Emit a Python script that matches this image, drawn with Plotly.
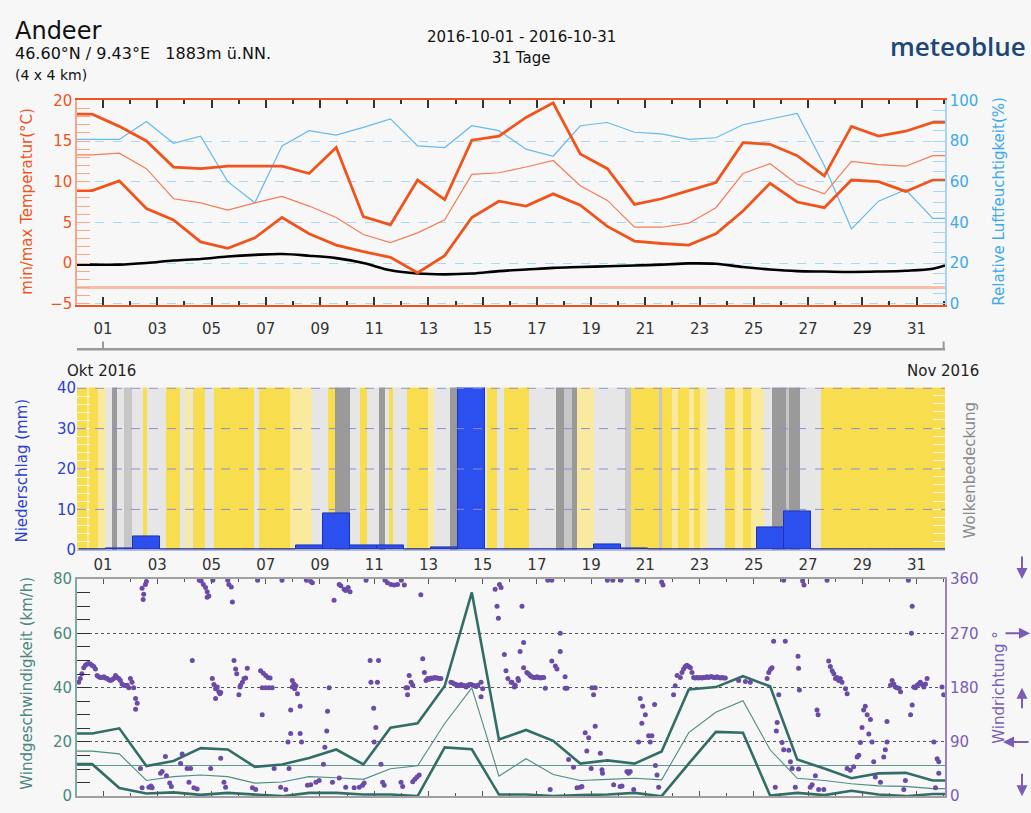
import plotly.graph_objects as go

W, H = 1031, 813

# ---------------- data ----------------
XMIN, XMAX = 0.04, 32.05          # axis span in "day of October" units (tick 01 = Oct 1)
POINT_OFFSET = 0.6                 # daily values are plotted at day + 0.6
day_index = list(range(32))        # Sep 30 .. Oct 31
day_ticks = list(range(1, 32, 2))
day_ticktext = ["%02d" % d for d in day_ticks]
day_minor = list(range(2, 33, 2))

tmax = [18.3, 16.8, 15.0, 11.8, 11.6, 11.9, 11.9, 11.9, 11.0, 14.2, 5.7, 4.7, 10.2, 7.8, 15.1, 15.6,
        17.9, 19.7, 13.4, 11.6, 7.2, 7.9, 8.9, 9.9, 14.8, 14.6, 13.2, 10.7, 16.8, 15.6, 16.2, 17.3]
tmean = [13.3, 13.5, 11.6, 7.9, 7.4, 6.5, 7.4, 8.2, 7.0, 5.6, 3.5, 2.5, 3.7, 5.3, 10.9, 11.1,
         11.8, 12.6, 9.5, 7.7, 4.4, 4.4, 4.9, 6.8, 11.0, 12.2, 9.7, 8.5, 12.5, 12.1, 11.9, 13.2]
tmin = [8.9, 10.1, 6.7, 5.3, 2.6, 1.8, 3.1, 5.6, 3.6, 2.2, 1.4, 0.7, -1.2, 0.9, 5.6, 7.6,
        7.0, 8.5, 7.1, 4.5, 2.7, 2.4, 2.2, 3.6, 6.4, 9.8, 7.5, 6.8, 10.2, 10.0, 8.8, 10.2]
humidity = [80.8, 80.8, 89.6, 78.9, 82.4, 60.0, 49.6, 77.6, 85.1, 82.9, 86.7, 90.9, 77.6, 76.8, 87.5, 85.1,
            76.0, 72.5, 87.5, 89.1, 84.3, 83.5, 80.8, 81.6, 88.0, 90.9, 93.6, 68.0, 36.8, 50.4, 56.0, 41.9]
ref_curve = [-0.2, -0.2, 0.0, 0.3, 0.5, 0.8, 1.0, 1.1, 0.9, 0.6, 0.0, -0.9, -1.3, -1.4, -1.3, -1.0,
             -0.8, -0.6, -0.5, -0.4, -0.3, -0.2, -0.05, -0.1, -0.5, -0.8, -1.0, -1.05, -1.1, -1.05, -0.95, -0.7]
ref_curve_edges = (-0.2, -0.3)
temp_ref = -3.0

precip = [0, 0.3, 3.2, 0, 0, 0, 0, 0, 1.0, 9.0, 1.0, 1.0, 0, 0.6, 41.0, 0,
          0, 0, 0, 1.4, 0.4, 0, 0, 0, 0, 5.5, 9.4, 0.15, 0, 0, 0, 0]

cloud_start = [0.04, 0.42, 0.50, 0.83, 1.11, 1.32, 1.53, 1.77, 2.06, 2.49, 2.61, 3.32, 3.84, 4.03, 4.19, 4.31,
               4.76, 5.10, 6.57, 6.77, 7.90, 8.70, 9.31, 9.56, 10.11, 10.48, 10.73, 11.16, 11.41, 11.53, 11.69,
               12.21, 13.00, 13.19, 13.80, 14.05, 14.17, 15.16, 15.53, 15.77, 16.70, 17.72, 17.99, 18.30, 18.48,
               19.10, 20.26, 20.47, 21.49, 21.62, 22.00, 22.20, 22.60, 22.80, 23.00, 23.28, 23.95, 24.30, 24.60,
               24.90, 25.37, 25.67, 26.17, 26.29, 26.72, 27.46]
cloud_level = [0, 1, 0, 1, 2, 4, 2, 3, 2, 0, 2, 0, 2, 1, 2, 0,
               2, 0, 2, 0, 1, 2, 0, 4, 2, 0, 2, 4, 2, 0, 2,
               0, 1, 2, 4, 3, 2, 0, 2, 0, 2, 4, 3, 4, 1,
               2, 3, 0, 3, 0, 1, 0, 1, 0, 1, 2, 0, 1, 0,
               1, 2, 4, 3, 4, 2, 0]

wmax = [23.1, 25.0, 11.1, 13.0, 17.7, 17.2, 10.8, 11.7, 14.1, 17.2, 11.7, 25.2, 26.9, 40.6, 75.1, 20.9,
        24.4, 20.4, 12.0, 13.2, 12.0, 16.5, 39.3, 40.2, 44.2, 40.5, 13.5, 10.2, 6.6, 8.4, 8.6, 5.8]
wmean = [16.6, 15.6, 5.8, 7.2, 7.8, 7.2, 4.8, 5.2, 7.2, 6.8, 6.2, 10.1, 11.2, 26.8, 39.9, 7.4,
         13.8, 8.0, 5.8, 6.2, 6.6, 6.0, 23.4, 30.9, 35.2, 17.1, 6.6, 5.8, 4.6, 3.8, 3.6, 2.8]
wmin = [11.8, 3.0, 1.0, 1.4, 0.5, 1.2, 0.6, 0.0, 1.2, 1.2, 0.6, 0.6, 0.0, 18.0, 17.3, 0.6,
        0.6, 0.0, 0.4, 0.6, 1.2, 0.0, 12.0, 23.7, 23.4, 0.2, 1.2, 0.4, 2.0, 0.6, 0.0, 0.8]
wind_ref = 11.3

# hourly wind-direction observations (day, degrees)
wdir_obs = [
    (0.10, 189), (0.16, 195), (0.22, 203), (0.29, 213), (0.35, 217), (0.41, 219), (0.47, 220), (0.53, 219),
    (0.59, 217), (0.66, 215), (0.72, 211), (0.78, 200), (0.84, 198), (0.90, 197), (0.96, 197), (1.03, 198),
    (1.09, 196), (1.15, 195), (1.21, 193), (1.27, 192), (1.33, 193), (1.39, 195), (1.46, 200), (1.52, 197),
    (1.58, 195), (1.64, 192), (1.70, 186), (1.76, 184), (1.83, 183), (1.89, 184), (1.95, 180), (2.01, 195),
    (2.07, 189), (2.13, 180), (2.20, 162), (2.26, 154), (2.20, 144),
    (2.44, 345), (2.50, 335), (2.48, 326), (2.56, 351), (2.60, 356),
    (2.38, 46), (2.44, 14), (2.69, 15), (2.77, 17), (2.81, 14), (3.18, 41), (3.12, 38), (3.30, 66), (3.34, 34),
    (3.46, 22), (3.52, 16), (3.86, 54), (3.92, 70), (4.10, 46), (4.23, 46), (4.17, 23), (4.35, 14), (4.47, 12),
    (4.97, 46), (5.34, 63), (5.46, 23), (5.52, 15), (4.29, 225),
    (4.62, 357), (4.70, 351), (4.78, 346), (4.84, 339), (4.90, 332), (4.84, 330), (5.64, 351), (5.73, 347),
    (5.77, 322), (4.55, 358), (5.05, 358), (5.60, 358), (6.70, 358), (7.60, 358), (8.50, 358),
    (5.03, 195), (5.09, 185), (5.15, 178), (5.21, 181), (5.27, 173), (5.34, 172), (5.15, 162), (5.31, 170),
    (5.83, 225), (5.89, 211), (5.93, 203), (6.01, 168), (6.07, 184), (6.14, 189), (6.20, 195), (6.26, 196),
    (6.32, 212), (6.05, 181),
    (6.81, 208), (6.91, 204), (7.00, 200), (7.08, 197), (6.87, 180), (7.00, 180), (7.12, 180), (7.24, 180),
    (6.87, 135), (7.16, 196),
    (6.51, 14), (6.63, 11), (7.31, 46), (7.55, 15), (7.74, 11), (7.86, 46),
    (7.98, 192), (8.04, 186), (8.11, 183), (8.17, 170), (7.98, 181), (8.07, 178),
    (7.92, 143), (8.27, 149), (7.92, 104), (8.27, 104), (7.82, 90), (8.32, 90),
    (8.54, 18), (8.66, 19), (8.85, 23), (8.97, 26),
    (8.66, 356), (8.72, 354), (9.52, 325), (9.71, 351), (9.77, 349), (9.89, 343), (9.95, 341), (10.11, 339),
    (10.04, 346), (10.70, 358), (11.40, 358), (12.00, 358),
    (9.34, 180), (9.28, 141), (9.25, 108), (9.18, 81), (9.13, 53),
    (9.46, 23), (9.71, 30), (9.95, 15), (10.26, 14), (10.45, 15), (10.57, 18), (10.63, 22),
    (10.85, 225), (11.16, 225), (10.88, 189), (11.12, 189), (10.98, 146), (11.06, 114), (11.00, 90),
    (11.25, 53), (11.31, 23), (11.37, 18), (11.99, 23), (12.05, 16),
    (11.49, 354), (11.62, 351), (11.74, 350), (11.86, 351), (12.11, 350), (12.72, 334),
    (12.17, 180), (12.23, 180), (12.29, 200), (12.36, 189), (12.42, 184), (12.23, 168),
    (12.42, 24), (12.50, 28), (12.58, 32), (12.66, 35),
    (12.79, 228), (12.85, 205), (12.91, 192), (12.97, 195), (13.03, 194), (13.09, 196), (13.15, 195),
    (13.22, 197), (13.28, 196), (13.34, 196), (13.40, 195), (13.46, 195),
    (13.83, 189), (13.89, 188), (13.96, 186), (14.02, 185), (14.08, 184), (14.14, 183), (14.20, 185),
    (14.27, 184), (14.33, 183), (14.39, 181), (14.45, 184), (14.51, 185), (14.57, 185), (14.64, 184),
    (14.70, 183), (14.76, 182), (14.82, 184), (14.94, 189), (15.00, 178), (14.94, 165),
    (15.46, 343), (15.62, 351), (15.68, 346), (15.53, 315), (15.58, 295), (15.80, 235), (15.86, 208),
    (15.93, 195), (16.05, 189), (16.17, 181), (16.30, 195),
    (16.08, 189), (16.20, 184), (16.32, 192), (16.38, 240), (16.51, 255), (16.51, 213), (16.63, 205),
    (16.69, 203), (16.75, 200), (16.81, 198), (16.88, 197), (16.94, 197), (17.00, 198), (17.06, 197),
    (17.12, 196), (17.18, 197), (17.25, 197), (17.31, 179), (17.55, 224), (17.68, 216), (17.74, 211),
    (17.86, 240), (17.86, 270), (18.04, 198), (18.04, 179), (18.11, 179), (16.45, 315),
    (17.40, 358), (17.55, 358), (19.60, 358), (19.80, 358), (20.10, 358), (20.70, 358), (21.60, 355),
    (21.65, 350), (26.10, 358), (26.80, 357), (26.85, 350), (27.70, 358), (30.70, 358),
    (19.03, 180), (19.15, 180), (19.09, 168),
    (17.49, 11), (18.17, 61), (18.35, 48), (18.48, 14), (18.60, 15), (18.66, 16), (18.78, 105), (18.84, 75),
    (18.91, 97), (19.00, 46), (19.15, 116), (19.34, 71), (19.40, 44), (19.42, 38), (19.83, 19), (20.07, 16),
    (20.14, 17), (20.32, 41), (20.38, 38), (20.44, 41), (20.57, 11), (21.37, 51), (21.43, 35), (21.49, 15),
    (20.81, 162), (20.90, 149), (21.00, 135), (20.87, 121), (21.12, 100), (21.24, 100), (21.34, 152),
    (20.75, 90), (21.18, 90),
    (22.04, 168), (22.10, 183), (22.17, 200), (22.29, 197), (22.35, 205), (22.41, 211), (22.47, 215),
    (22.53, 217), (22.60, 215), (22.66, 213), (22.72, 205), (22.78, 197), (22.84, 196), (22.90, 197),
    (22.96, 196), (23.03, 197), (23.09, 196), (23.15, 197), (23.21, 197), (23.27, 198), (23.33, 197),
    (23.40, 198), (23.46, 198), (23.52, 197), (23.58, 197), (23.64, 198), (23.70, 197), (23.77, 196),
    (23.83, 197), (23.89, 196), (23.95, 196), (24.44, 192), (24.69, 190), (24.87, 189), (25.49, 195),
    (25.55, 205), (25.61, 210), (25.67, 213), (25.73, 257), (26.16, 257), (25.92, 168), (25.86, 122),
    (25.83, 108), (26.04, 89), (26.10, 77), (26.29, 76), (26.35, 57),
    (26.63, 232), (26.65, 212), (26.68, 176), (27.33, 143), (27.37, 135),
    (25.79, 15), (26.41, 46), (26.53, 15), (26.65, 45), (27.08, 15), (27.15, 19), (27.27, 34), (27.39, 11),
    (27.58, 11),
    (27.76, 224), (27.82, 215), (27.89, 208), (27.95, 203), (28.01, 195), (28.07, 197), (28.13, 192),
    (28.19, 195), (28.25, 189), (28.38, 178), (28.44, 170),
    (28.44, 46), (28.56, 43), (28.68, 49), (28.81, 65), (28.87, 68), (28.93, 89), (28.99, 114), (29.05, 143),
    (29.11, 149), (29.18, 135), (29.24, 103), (29.30, 127), (29.36, 90), (29.42, 57), (29.48, 32),
    (29.67, 23), (29.79, 65), (29.85, 77), (29.91, 90), (29.91, 124), (30.04, 184), (30.10, 192),
    (30.16, 186), (30.22, 181), (30.28, 180), (30.35, 179), (30.41, 173), (30.53, 11), (30.59, 26),
    (30.78, 135), (30.84, 151), (30.90, 181), (30.96, 180), (31.02, 184), (31.08, 186), (31.14, 189),
    (31.20, 185), (31.27, 181), (31.33, 186), (31.39, 195), (31.64, 90), (31.76, 62), (31.82, 57),
    (31.82, 38), (31.94, 181), (32.00, 168), (31.70, 14), (30.81, 270), (30.84, 315),
]

temp_ticks = [-5, 0, 5, 10, 15, 20]
hum_ticks = [0, 20, 40, 60, 80, 100]
precip_ticks = [0, 10, 20, 30, 40]
speed_ticks = [0, 20, 40, 60, 80]
dir_ticks = [0, 90, 180, 270, 360]

# ---------------- style ----------------
BG = "#f7f7f7"
ORANGE = "#f0541c"
ORANGE_THIN = "#f47d56"
SALMON = "#f6a88c"
HUM = "#67b9ee"
HUMTXT = "#3ea9ea"
BLUE = "#2c3fd2"
BARBLUE = "#2c4ff0"
TEAL = "#336e66"
TEAL_THIN = "#4f8c83"
TEALTXT = "#4b8780"
PURPLE = "#6b4ba8"
PURPLETXT = "#7a5cb6"
FONT = "DejaVu Sans"

pos = [d + POINT_OFFSET for d in day_index]
xline = [XMIN] + pos + [XMAX]


def ext(v):
    return [v[0]] + list(v) + [v[-1]]


def py(p):
    return 1 - p / H


xdom = [77 / W, 945 / W]
ytop = [py(303), py(93)]
ymid = [py(553), py(387)]
ybot = [py(805), py(583)]

fig = go.Figure()

# ---- top panel: humidity (base axis y, right) + temperature (overlay y2, left)
fig.add_trace(go.Scatter(x=xline, y=ext(humidity), xaxis="x", yaxis="y", mode="lines",
                         line=dict(color=HUM, width=1.2), hoverinfo="skip"))
fig.add_trace(go.Scatter(x=[XMIN, XMAX], y=[temp_ref, temp_ref], xaxis="x", yaxis="y2", mode="lines",
                         line=dict(color="#f9bda8", width=3), hoverinfo="skip"))
fig.add_trace(go.Scatter(x=[XMIN] + pos + [XMAX], y=[ref_curve_edges[0]] + ref_curve + [ref_curve_edges[1]],
                         xaxis="x", yaxis="y2", mode="lines", line=dict(color="#000000", width=2.6, shape="spline"),
                         hoverinfo="skip"))
fig.add_trace(go.Scatter(x=xline, y=ext(tmean), xaxis="x", yaxis="y2", mode="lines",
                         line=dict(color=ORANGE_THIN, width=1.2), hoverinfo="skip"))
fig.add_trace(go.Scatter(x=xline, y=ext(tmin), xaxis="x", yaxis="y2", mode="lines",
                         line=dict(color=ORANGE, width=2.8), hoverinfo="skip"))
fig.add_trace(go.Scatter(x=xline, y=ext(tmax), xaxis="x", yaxis="y2", mode="lines",
                         line=dict(color=ORANGE, width=2.8), hoverinfo="skip"))

# ---- middle panel: cloud cover stripes + precipitation
cloud_colors = ["#f8de4f", "#f9eaa0", "#e6e6e6", "#c6c6c6", "#9a9a9a"]
cs = []
n = len(cloud_colors)
for i, c in enumerate(cloud_colors):
    lo = max(0, (i - 0.5) / (n - 1))
    hi = min(1, (i + 0.5) / (n - 1))
    cs.append([lo, c])
    cs.append([hi, c])
fig.add_trace(go.Heatmap(x=cloud_start + [XMAX], y=[0, 45], z=[cloud_level], colorscale=cs,
                         zmin=0, zmax=n - 1, showscale=False, xaxis="x3", yaxis="y3", hoverinfo="skip"))
fig.add_trace(go.Bar(x=pos, y=precip, width=1.0, xaxis="x3", yaxis="y3",
                     marker=dict(color=BARBLUE, line=dict(color="#1d34b0", width=1)), hoverinfo="skip"))
fig.add_trace(go.Scatter(x=[None], y=[None], xaxis="x3", yaxis="y4", mode="lines", hoverinfo="skip"))

# ---- bottom panel: wind speed + direction
fig.add_trace(go.Scatter(x=[XMIN, XMAX], y=[wind_ref, wind_ref], xaxis="x5", yaxis="y5", mode="lines",
                         line=dict(color="#5f9a92", width=1.2), hoverinfo="skip"))
fig.add_trace(go.Scatter(x=xline, y=ext(wmean), xaxis="x5", yaxis="y5", mode="lines",
                         line=dict(color=TEAL_THIN, width=1.1), hoverinfo="skip"))
fig.add_trace(go.Scatter(x=xline, y=ext(wmin), xaxis="x5", yaxis="y5", mode="lines",
                         line=dict(color=TEAL, width=2.6), hoverinfo="skip"))
fig.add_trace(go.Scatter(x=xline, y=ext(wmax), xaxis="x5", yaxis="y5", mode="lines",
                         line=dict(color=TEAL, width=2.6), hoverinfo="skip"))
wdir_time = [o[0] for o in wdir_obs]
wdir_deg = [o[1] for o in wdir_obs]
fig.add_trace(go.Scatter(x=wdir_time, y=wdir_deg, xaxis="x5", yaxis="y6", mode="markers",
                         marker=dict(color=PURPLE, size=5), cliponaxis=True, hoverinfo="skip"))

tickfont = dict(family=FONT, size=15, color="#333333")

common_x = dict(domain=xdom, range=[XMIN, XMAX], tickmode="array", tickvals=day_ticks,
                ticktext=day_ticktext, showgrid=False, zeroline=False, tickfont=tickfont)

T_RANGE = [-5.2, 20.05]
fig.update_layout(
    width=W, height=H, margin=dict(l=0, r=0, t=0, b=0), autosize=False,
    paper_bgcolor=BG, plot_bgcolor=BG, showlegend=False, bargap=0,
    font=dict(family=FONT, color="#333333"),
    xaxis=dict(**common_x, anchor="y", ticks="inside", ticklen=8, tickwidth=1.5, tickcolor="#333333",
               minor=dict(tickmode="array", tickvals=day_minor, ticks="inside", ticklen=4, tickwidth=1.5,
                          tickcolor="#333333"),
               showline=True, linecolor=ORANGE, linewidth=2, mirror="ticks", ticklabelstandoff=9),
    yaxis=dict(domain=ytop, anchor="x", side="right", range=[(T_RANGE[0] + 5) * 4, (T_RANGE[1] + 5) * 4],
               tickmode="array", tickvals=hum_ticks, ticks="inside", ticklen=12, tickcolor="#a6d6f4",
               minor=dict(tickmode="linear", tick0=0, dtick=5, ticks="inside", ticklen=12, tickcolor="#a6d6f4"),
               showgrid=True, gridcolor="#a9d8f3", griddash="dash", gridwidth=1, zeroline=False,
               showline=True, linecolor="#a6d6f4", linewidth=1.5,
               tickfont=dict(family=FONT, size=15, color=HUMTXT)),
    yaxis2=dict(overlaying="y", anchor="x", side="left", range=T_RANGE, tickmode="array", tickvals=temp_ticks,
                ticks="inside", ticklen=13, tickcolor=SALMON,
                minor=dict(tickmode="linear", tick0=0, dtick=1, ticks="inside", ticklen=13, tickcolor=SALMON),
                showgrid=False, zeroline=False, showline=True, linecolor=SALMON, linewidth=1.5,
                tickfont=dict(family=FONT, size=15, color=ORANGE)),
    xaxis3=dict(**common_x, anchor="y3", ticks="", showline=True, linecolor="#b8b8e0", linewidth=1,
                ticklabelstandoff=1),
    yaxis3=dict(domain=ymid, anchor="x3", range=[0, 40.2], tickmode="array", tickvals=precip_ticks,
                ticks="inside", ticklen=13, tickcolor="rgba(255,255,255,0.75)",
                minor=dict(tickmode="linear", tick0=0, dtick=2, ticks="inside", ticklen=13,
                           tickcolor="rgba(255,255,255,0.75)"),
                showgrid=False, zeroline=False, showline=False, layer="above traces",
                tickfont=dict(family=FONT, size=15, color=BLUE)),
    yaxis4=dict(overlaying="y3", anchor="x3", side="right", range=[0, 100], showticklabels=False,
                tickmode="linear", tick0=0, dtick=5, ticks="inside", ticklen=12,
                tickcolor="rgba(255,255,255,0.75)", showgrid=False, zeroline=False, showline=False),
    xaxis5=dict(**common_x, anchor="y5", ticks="inside", ticklen=5, tickwidth=1.2, tickcolor="#555555",
                minor=dict(tickmode="array", tickvals=day_minor, ticks="inside", ticklen=3, tickwidth=1.2,
                           tickcolor="#555555"),
                showticklabels=False, showline=True, linecolor="#a0a0a0", linewidth=2, mirror="ticks"),
    yaxis5=dict(domain=ybot, anchor="x5", range=[0, 80], tickmode="array", tickvals=speed_ticks,
                ticks="inside", ticklen=13, tickcolor="#333333",
                minor=dict(tickmode="linear", tick0=0, dtick=5, ticks="inside", ticklen=13, tickcolor="#333333"),
                showgrid=True, gridcolor="#555555", griddash="dot", gridwidth=1, zeroline=False,
                showline=True, linecolor="#7fa9a3", linewidth=2,
                tickfont=dict(family=FONT, size=15, color=TEALTXT)),
    yaxis6=dict(overlaying="y5", anchor="x5", side="right", range=[0, 360], tickmode="array",
                tickvals=dir_ticks, ticks="", showgrid=False, zeroline=False, showline=True,
                linecolor="#9a82c8", linewidth=2, tickfont=dict(family=FONT, size=15, color=PURPLETXT)),
)

# precipitation grid (drawn above the cloud stripes)
shapes = []
for v in precip_ticks[1:]:
    shapes.append(dict(type="line", xref="x3 domain", x0=0, x1=1, yref="y3", y0=v, y1=v,
                       line=dict(color="#8c8cd8", width=1, dash="dash"), layer="above"))
# month bar under top panel
yb = py(348)
shapes.append(dict(type="line", xref="x", x0=XMIN, x1=XMAX, yref="paper", y0=yb, y1=yb,
                   line=dict(color="#999999", width=2.5)))
for xm in (1, 32):
    shapes.append(dict(type="line", xref="x", x0=xm, x1=xm, yref="paper", y0=yb, y1=py(340),
                       line=dict(color="#999999", width=2)))
fig.update_layout(shapes=shapes)

ann = []


def txt(text, x, y, size, color="#111111", xanchor="left", angle=0, family=FONT, weight=None):
    f = dict(family=family, size=size, color=color)
    if weight:
        f["weight"] = weight
    ann.append(dict(text=text, x=x / W, y=py(y), xref="paper", yref="paper", xanchor=xanchor,
                    yanchor="middle", showarrow=False, textangle=angle, font=f))


NB = "\u00a0"
txt("Andeer", 13, 23, 24)
txt("46.60°N / 9.43°E" + NB * 3 + "1883m ü.NN.", 13, 46, 16)
txt("(4 x 4 km)", 13, 68, 14)
txt("2016-10-01 - 2016-10-31", 521, 29, 15, xanchor="center")
txt("31 Tage", 521, 50, 15, xanchor="center")
txt("meteoblue", 1028, 38, 26, color="#1c4877", xanchor="right", family="Open Sans", weight=600)
txt("Okt 2016", 101, 370, 15, color="#222222", xanchor="center")
txt("Nov 2016", 943, 370, 15, color="#222222", xanchor="center")
txt("min/max Temperatur(°C)", 27, 197, 15, color=ORANGE, xanchor="center", angle=-90)
txt("Relative Luftfeuchtigkeit(%)", 999, 197, 15, color=HUMTXT, xanchor="center", angle=-90)
txt("Niederschlag (mm)", 22, 472, 15, color=BLUE, xanchor="center", angle=-90)
txt("Wolkenbedeckung", 970, 472, 15, color="#8a8a8a", xanchor="center", angle=-90)
txt("Windgeschwindigkeit (km/h)", 27, 690, 15, color=TEALTXT, xanchor="center", angle=-90)
txt("Windrichtung °", 999, 694, 15, color=PURPLETXT, xanchor="center", angle=-90)

# compass arrows next to the wind direction axis
for deg, ax, ay, xpx in [(360, 0, -24, 1022), (270, -26, 0, 1030), (180, 0, 22, 1022),
                         (90, 27, 0, 1003), (0, 0, -24, 1022)]:
    ann.append(dict(text="", x=xpx / W, xref="paper", y=deg, yref="y6", showarrow=True,
                    ax=ax, ay=ay, arrowhead=2, arrowsize=1.1, arrowwidth=2, arrowcolor=PURPLETXT))

fig.update_layout(annotations=ann)
fig.write_html("out.html", config={"displayModeBar": False},
               post_script="document.body.style.margin='0';document.body.style.overflow='hidden';")
